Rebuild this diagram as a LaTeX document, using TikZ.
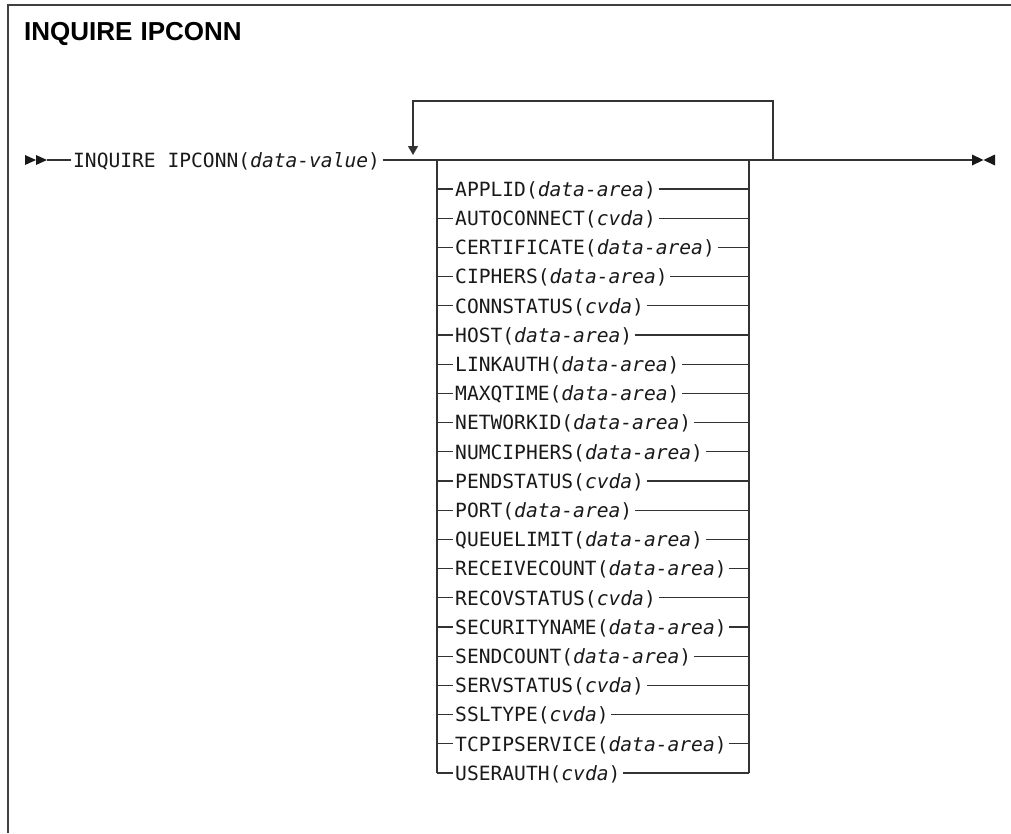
\documentclass[tikz,border=0pt]{standalone}
\usepackage{fontspec}
\newfontfamily\synfont{DejaVu Sans Mono}
\newfontfamily\titlefont{Liberation Sans}
\usetikzlibrary{arrows.meta}
\tikzset{
  frame/.style={line width=1.8pt, black!75},
  rail/.style={line width=1.3pt, black!80},
  syn/.style={font=\synfont\fontsize{19.6}{22}\selectfont, inner xsep=2.5pt, inner ysep=0pt, anchor=base west, text=black!90},
  ttl/.style={font=\titlefont\bfseries\fontsize{26}{30}\selectfont, inner sep=0pt, anchor=base west},
  tip/.style={fill=black!90, draw=none},
  looparrow/.style={rail, -{Triangle[length=9pt,width=10pt]}}
}
\begin{document}
\begin{tikzpicture}[x=1pt,y=-1pt]
\useasboundingbox (0,0) rectangle (1011,833);
% frame
\draw[frame] (8,833) -- (8,5) -- (1011,5);
% title
\node[ttl] (title) at (24,40) {INQUIRE\hspace{8pt}IPCONN};
% start arrows
\fill[tip] (25,155) -- (36,160) -- (25,165) -- cycle;
\fill[tip] (36,155) -- (47,160) -- (36,165) -- cycle;
\coordinate (start) at (47,160);
\node[syn] (head) at (70.5,167.2) {INQUIRE IPCONN(\textit{data-value})};
\draw[rail] (start) -- (head.west |- start);
% main line and loop
\coordinate (loopL) at (413,160);
\coordinate (loopR) at (773,160);
\coordinate (loopTL) at (413,101);
\coordinate (loopTip) at (413,155);
\coordinate (boxL) at (437,160);
\coordinate (boxR) at (749,160);
\coordinate (finish) at (972,160);
\draw[rail] (head.east |- start) -- (finish);
\draw[looparrow] (loopR) |- (loopTL) -- (loopTip);
% end arrows
\fill[tip] (972,154.5) -- (983.5,160) -- (972,165.5) -- cycle;
\fill[tip] (995,154.5) -- (983.5,160) -- (995,165.5) -- cycle;
% options
\foreach \kw/\arg [count=\i from 0] in {
  APPLID/data-area, AUTOCONNECT/cvda, CERTIFICATE/data-area, CIPHERS/data-area,
  CONNSTATUS/cvda, HOST/data-area, LINKAUTH/data-area, MAXQTIME/data-area,
  NETWORKID/data-area, NUMCIPHERS/data-area, PENDSTATUS/cvda, PORT/data-area,
  QUEUELIMIT/data-area, RECEIVECOUNT/data-area, RECOVSTATUS/cvda,
  SECURITYNAME/data-area, SENDCOUNT/data-area, SERVSTATUS/cvda, SSLTYPE/cvda,
  TCPIPSERVICE/data-area, USERAUTH/cvda} {
  \pgfmathsetmacro\yy{189+29.2*\i}
  \coordinate (L\i) at (437,\yy);
  \coordinate (R\i) at (749,\yy);
  \node[syn] (t\i) at (452.5,\yy+7.2) {\kw(\textit{\arg})};
  \draw[rail] (L\i) -- (t\i.west |- L\i);
  \draw[rail] (t\i.east |- L\i) -- (R\i);
}
\draw[rail] (boxL) -- (L20);
\draw[rail] (boxR) -- (R20);
\end{tikzpicture}
\end{document}
